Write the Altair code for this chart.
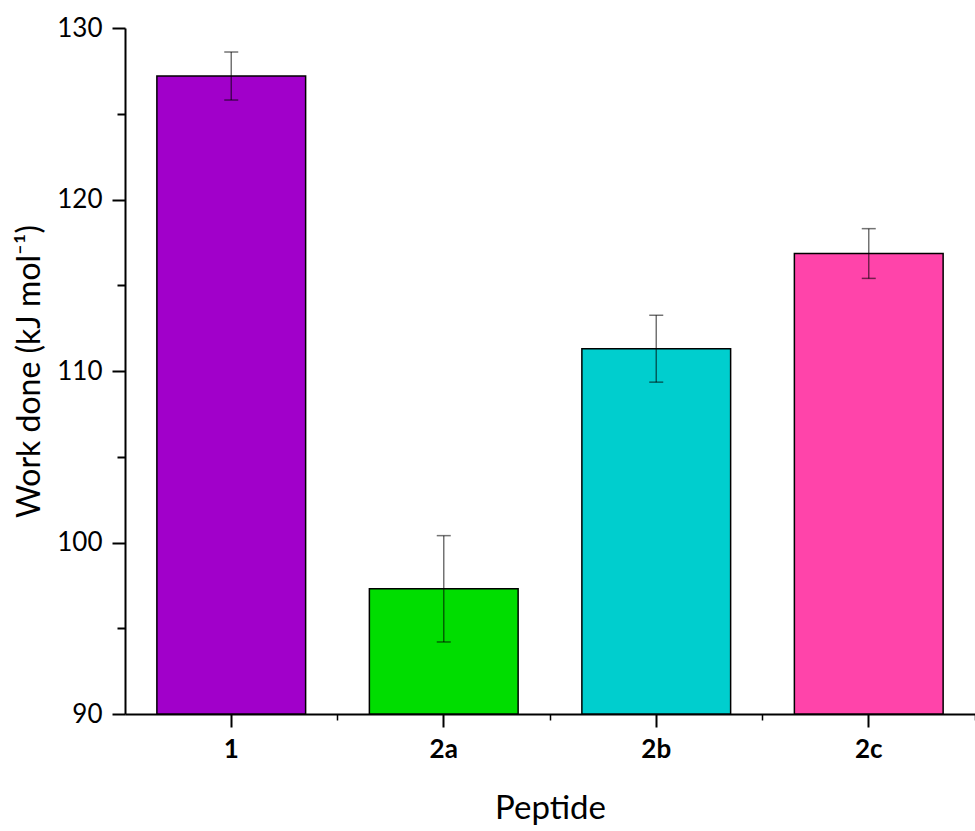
import altair as alt
import pandas as pd

peptides = ["1", "2a", "2b", "2c"]
work = [127.2, 97.3, 111.3, 116.85]
err = [1.4, 3.1, 1.95, 1.45]
colors = ["#A100CA", "#00DD00", "#00CECE", "#FF44AA"]

df = pd.DataFrame({
    "peptide": peptides,
    "work": work,
    "lo": [w - e for w, e in zip(work, err)],
    "hi": [w + e for w, e in zip(work, err)],
})

FONT = "Lato"
xscale = alt.Scale(domain=peptides, paddingInner=0.3, paddingOuter=0.15)
yscale = alt.Scale(domain=[90, 130], nice=False, zero=False)

base = alt.Chart(df)

bars = base.mark_bar(stroke="black", strokeWidth=1.5).encode(
    x=alt.X("peptide:N", sort=peptides, scale=xscale,
            axis=alt.Axis(orient="bottom", title="Peptide", labelAngle=0,
                          labelFontWeight="bold", labelFontSize=26, labelFont=FONT,
                          labelPadding=9, tickSize=13, tickWidth=2, domainWidth=2,
                          domainColor="black", tickColor="black", labelColor="black",
                          bandPosition=0.5, titleFontSize=33, titleFont=FONT,
                          titleFontWeight="normal", titlePadding=30, titleColor="black",
                          grid=False)),
    y=alt.Y("work:Q", scale=yscale,
            axis=alt.Axis(orient="left", title="Work done (kJ mol⁻¹)",
                          values=[90, 100, 110, 120, 130], labelFontSize=26, labelFont=FONT,
                          labelPadding=10, tickSize=13, tickWidth=2, domainWidth=2,
                          domainColor="black", tickColor="black", labelColor="black",
                          titleFontSize=32, titleFont=FONT, titleFontWeight="normal",
                          titlePadding=10, titleColor="black", grid=False)),
    y2=alt.datum(90),
    color=alt.Color("peptide:N", scale=alt.Scale(domain=peptides, range=colors), legend=None),
)

rules = base.mark_rule(color="black", opacity=0.55, strokeWidth=1.5).encode(
    x=alt.X("peptide:N", sort=peptides, scale=xscale,
            axis=alt.Axis(orient="bottom", title="", labels=False, domain=False,
                          tickSize=6, tickWidth=1.5, tickColor="black",
                          bandPosition=1.2143, grid=False)),
    y=alt.Y("lo:Q", scale=yscale,
            axis=alt.Axis(orient="left", title="", labels=False, domain=False,
                          values=[95, 105, 115, 125], tickSize=8, tickWidth=2,
                          tickColor="black", grid=False)),
    y2="hi:Q",
)

caps_lo = base.mark_tick(color="black", opacity=0.55, size=14, thickness=1.5).encode(
    x=alt.X("peptide:N", sort=peptides, scale=xscale, axis=None),
    y=alt.Y("lo:Q", scale=yscale, axis=None),
)
caps_hi = base.mark_tick(color="black", opacity=0.55, size=14, thickness=1.5).encode(
    x=alt.X("peptide:N", sort=peptides, scale=xscale, axis=None),
    y=alt.Y("hi:Q", scale=yscale, axis=None),
)

chart = alt.layer(bars, rules, caps_lo, caps_hi).resolve_axis(
    x="independent", y="independent"
).properties(
    width=850, height=686,
    background="white",
    autosize=alt.AutoSizeParams(type="none"),
    padding={"left": 125, "top": 28, "right": 0, "bottom": 117},
).configure_view(stroke=None)

chart.save("out.html", embed_options={"renderer": "svg", "actions": False})
